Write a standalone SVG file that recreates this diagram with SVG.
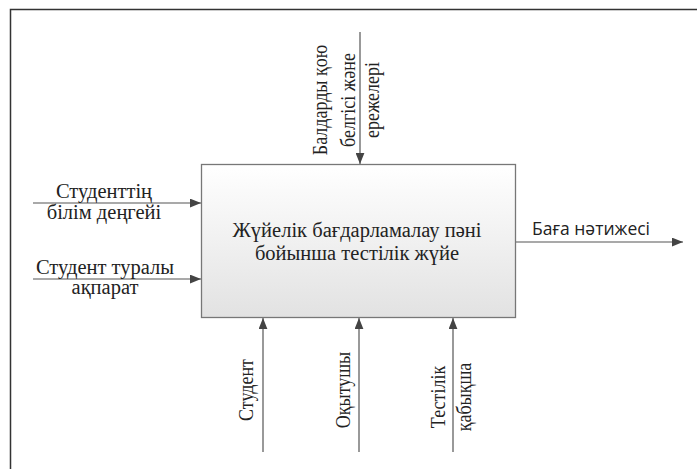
<svg xmlns="http://www.w3.org/2000/svg" width="697" height="469" viewBox="0 0 697 469">
<style>
.t{font-family:'Liberation Serif','DejaVu Serif',serif;font-size:20.5px;fill:#222}
.r{font-family:'Liberation Serif','DejaVu Serif',serif;font-size:18px;fill:#222}
.s{font-family:'Open Sans','Noto Sans',sans-serif;font-size:17.5px;fill:#222}
.c{stroke:#555;stroke-width:1.2;fill:none}
</style>
<defs>
<linearGradient id="g" x1="0" y1="0" x2="0" y2="1">
<stop offset="0" stop-color="#ffffff"/>
<stop offset="1" stop-color="#e2e2e2"/>
</linearGradient>
<marker id="a" viewBox="0 0 10 8" refX="10" refY="4" markerWidth="11" markerHeight="9" markerUnits="userSpaceOnUse" orient="auto">
<path d="M0,0 L10,4 L0,8 Z" fill="#444"/>
</marker>
</defs>
<rect width="697" height="469" fill="#fff"/>
<g id="frame">
<path d="M10.5,469 V9.5 H697" fill="none" stroke="#333" stroke-width="1.5"/>
</g>
<g id="connectors">
<line class="c" x1="360" y1="32" x2="360" y2="164" marker-end="url(#a)"/>
<line class="c" x1="33" y1="203" x2="201" y2="203" marker-end="url(#a)"/>
<line class="c" x1="33" y1="279" x2="201" y2="279" marker-end="url(#a)"/>
<line class="c" x1="515" y1="242" x2="683" y2="242" marker-end="url(#a)"/>
<line class="c" x1="263" y1="452" x2="263" y2="318" marker-end="url(#a)"/>
<line class="c" x1="359" y1="452" x2="359" y2="318" marker-end="url(#a)"/>
<line class="c" x1="453" y1="452" x2="453" y2="318" marker-end="url(#a)"/>
</g>
<g id="box">
<rect x="201.5" y="164.5" width="314" height="153" fill="url(#g)" stroke="#777" stroke-width="1.3"/>
<text class="t" text-anchor="middle"><tspan x="357" y="237">Жүйелік бағдарламалау пәні</tspan><tspan x="357" y="260">бойынша тестілік жүйе</tspan></text>
</g>
<g id="label-control">
<text class="r" text-anchor="middle" transform="translate(327,100) rotate(-90) scale(1,1.12)">Балдарды қою</text>
<text class="r" text-anchor="middle" transform="translate(355,100) rotate(-90) scale(1,1.12)">белгісі және</text>
<text class="r" text-anchor="middle" transform="translate(379,100) rotate(-90) scale(1,1.12)">ережелері</text>
</g>
<g id="label-input1">
<text class="t" text-anchor="middle"><tspan x="104" y="198">Студенттің</tspan><tspan x="104" y="219">білім деңгейі</tspan></text>
</g>
<g id="label-input2">
<text class="t" text-anchor="middle"><tspan x="105" y="274">Студент туралы</tspan><tspan x="105" y="294">ақпарат</tspan></text>
</g>
<g id="label-output">
<text class="s" x="532" y="235">Баға нәтижесі</text>
</g>
<g id="label-mech">
<text class="r" text-anchor="middle" transform="translate(253,390) rotate(-90) scale(1,1.12)">Студент</text>
<text class="r" text-anchor="middle" transform="translate(350,390) rotate(-90) scale(1,1.12)">Оқытушы</text>
<text class="r" text-anchor="middle" transform="translate(445,397) rotate(-90) scale(1,1.12)">Тестілік</text>
<text class="r" text-anchor="middle" transform="translate(471,397) rotate(-90) scale(1,1.12)">қабықша</text>
</g>
</svg>
